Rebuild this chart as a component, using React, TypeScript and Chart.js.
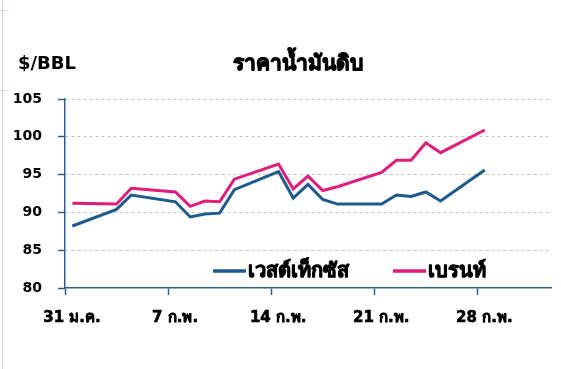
import { useEffect, useRef } from "react";
import { Chart, registerables } from "chart.js";

Chart.register(...registerables);

// ---- data ----
const tickDays = [0, 7, 14, 21, 28];
const tickLabels = ["31 ม.ค.", "7 ก.พ.", "14 ก.พ.", "21 ก.พ.", "28 ก.พ."];
// trading days counted from 31 Jan
const tradingDays = [0, 3, 4, 7, 8, 9, 10, 11, 14, 15, 16, 17, 18, 21, 22, 23, 24, 25, 28];
const wti = [88.2, 90.4, 92.3, 91.4, 89.4, 89.8, 89.9, 93.0, 95.4, 91.9, 93.7, 91.7, 91.1, 91.1, 92.3, 92.1, 92.7, 91.5, 95.6];
const brent = [91.2, 91.1, 93.2, 92.7, 90.8, 91.5, 91.4, 94.4, 96.4, 93.1, 94.8, 92.9, 93.4, 95.3, 96.9, 96.9, 99.2, 97.9, 100.9];
const seriesNames = ["เวสต์เท็กซัส", "เบรนท์"];
const titleText = "ราคาน้ำมันดิบ";
const unitText = "$/BBL";

const BLUE = "#1d5a8e";
const PINK = "#e01d7d";
const AXIS = "#2f5f8f";
const FONT = "'DejaVu Sans', 'Liberation Sans', 'Noto Sans', sans-serif";

function boldText(ctx: any, text: string, x: number, y: number, w: number) {
  ctx.lineWidth = w;
  ctx.strokeStyle = ctx.fillStyle;
  ctx.lineJoin = "round";
  ctx.strokeText(text, x, y);
  ctx.fillText(text, x, y);
}

const overlay = {
  id: "overlay",
  afterDraw(chart: any) {
    const ctx = chart.ctx;
    ctx.save();
    ctx.fillStyle = "#000";
    ctx.textBaseline = "middle";
    ctx.font = `bold 21px ${FONT}`;
    ctx.textAlign = "center";
    boldText(ctx, titleText, 298, 65, 1);
    ctx.font = `bold 18px ${FONT}`;
    ctx.textAlign = "left";
    ctx.fillText(unitText, 18, 64);

    // legend
    const items = chart.data.datasets.map((d: any) => ({ label: d.label, color: d.borderColor }));
    const xs = [213, 393];
    ctx.font = `bold 20px ${FONT}`;
    items.forEach((it: any, i: number) => {
      const x = xs[i];
      const y = 271;
      ctx.strokeStyle = it.color;
      ctx.lineWidth = 3.5;
      ctx.beginPath();
      ctx.moveTo(x, y);
      ctx.lineTo(x + 33, y);
      ctx.stroke();
      ctx.fillStyle = "#000";
      boldText(ctx, it.label, x + 35, y + 1, 0.9);
    });
    ctx.restore();
  },
};

export default function App() {
  const ref = useRef<HTMLCanvasElement | null>(null);
  useEffect(() => {
    if (!ref.current) return;
    const chart = new Chart(ref.current, {
      type: "line",
      data: {
        datasets: [
          {
            label: seriesNames[0],
            data: tradingDays.map((d, i) => ({ x: d + 0.5, y: wti[i] })),
            borderColor: BLUE,
            backgroundColor: BLUE,
            borderWidth: 3,
            pointRadius: 0,
            tension: 0,
          },
          {
            label: seriesNames[1],
            data: tradingDays.map((d, i) => ({ x: d + 0.5, y: brent[i] })),
            borderColor: PINK,
            backgroundColor: PINK,
            borderWidth: 3,
            pointRadius: 0,
            tension: 0,
          },
        ],
      },
      options: {
        animation: false,
        responsive: false,
        devicePixelRatio: 1,
        layout: { padding: { left: 0, top: 99, right: 10, bottom: 0 } },
        plugins: { legend: { display: false }, tooltip: { enabled: false }, title: { display: false } },
        scales: {
          x: {
            type: "linear",
            min: 0,
            max: 33,
            afterBuildTicks: (s: any) => {
              s.ticks = tickDays.map((v) => ({ value: v }));
            },
            afterFit: (s: any) => {
              s.height = 81;
            },
            ticks: {
              autoSkip: false,
              maxRotation: 0,
              labelOffset: 7,
              padding: 14,
              color: "#000",
              textStrokeColor: "#000",
              textStrokeWidth: 0.6,
              font: { family: FONT, size: 15, weight: "bold" },
              callback: (v: any) => {
                const i = tickDays.indexOf(Number(v));
                return i >= 0 ? tickLabels[i] : "";
              },
            },
            grid: { drawOnChartArea: false, tickLength: 7, tickColor: AXIS, tickWidth: 1.5 },
            border: { color: AXIS, width: 1.5 },
          },
          y: {
            min: 80,
            max: 105,
            afterFit: (s: any) => {
              s.width = 65;
            },
            ticks: {
              stepSize: 5,
              padding: 16,
              color: "#000",
              font: { family: FONT, size: 14, weight: "bold" },
            },
            grid: {
              color: (c: any) => (c.tick && c.tick.value === 80 ? "rgba(0,0,0,0)" : "#c4c4c4"),
              lineWidth: 1,
              tickLength: 7,
              tickColor: AXIS,
              tickWidth: 1.5,
            },
            border: { color: AXIS, width: 1.5, dash: [3, 3] },
          },
        },
      },
      plugins: [overlay],
    });
    return () => chart.destroy();
  }, []);
  return (
    <div style={{ position: "absolute", left: 0, top: 0, width: 561, height: 369, background: "#fff" }}>
      <div style={{ position: "absolute", left: 2, top: 0, width: 1, height: 369, background: "#c9d3df" }} />
      <div style={{ position: "absolute", left: 0, top: 10, width: 6, height: 1, background: "#c9d3df" }} />
      <div style={{ position: "absolute", left: 0, top: 90, width: 6, height: 1, background: "#c9d3df" }} />
      <canvas ref={ref} width={561} height={369} style={{ position: "absolute", left: 0, top: 0, width: 561, height: 369 }} />
    </div>
  );
}
